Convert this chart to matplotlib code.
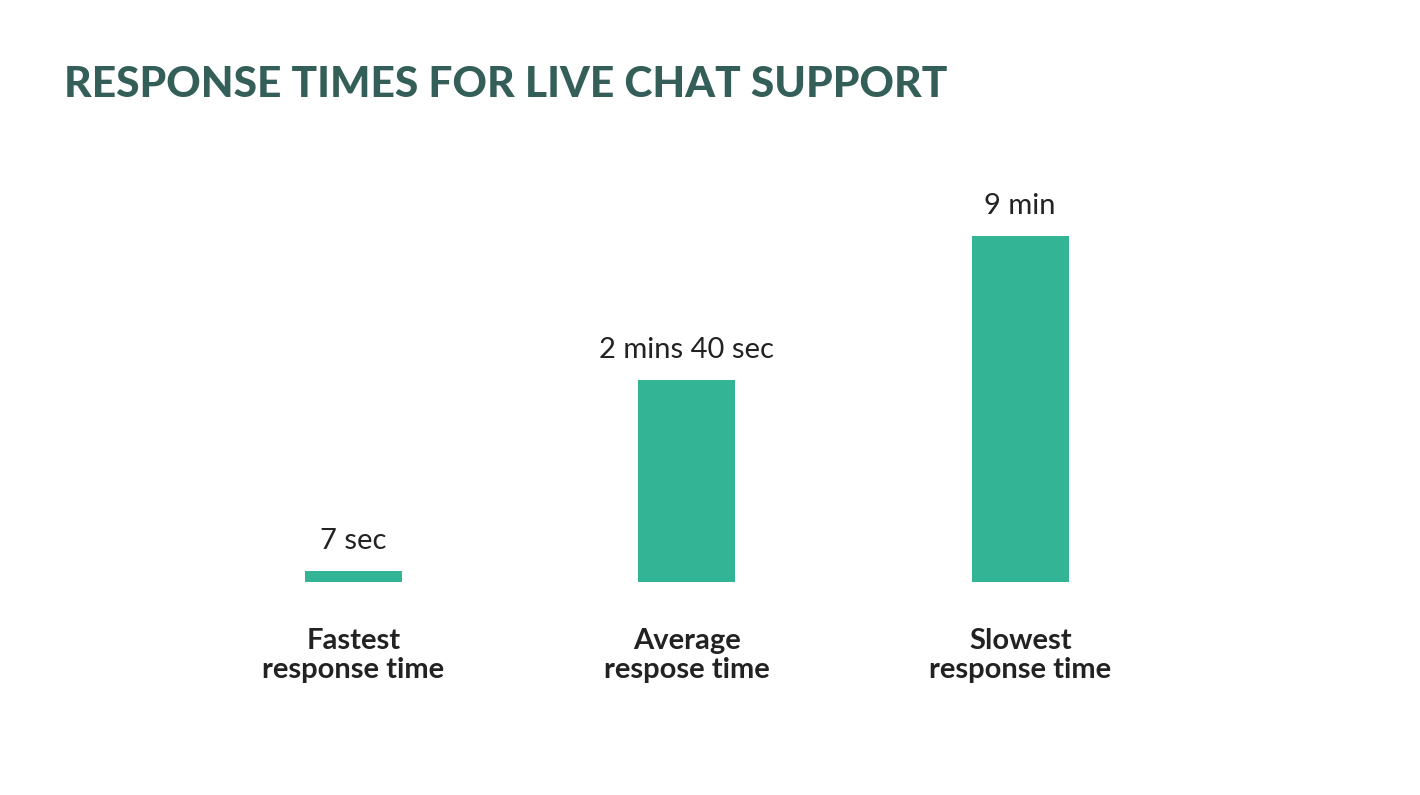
import matplotlib.pyplot as plt

# values (bar heights are relative, slowest = 100)
categories = [("Fastest", "response time"),
              ("Average", "respose time"),
              ("Slowest", "response time")]
bar_heights = [3.2, 58.4, 100.0]
value_labels = ["7 sec", "2 mins 40 sec", "9 min"]

W, H, DPI = 1420, 795, 100
BAR = "#33b595"
TXT = "#222222"
TITLE = "#335f58"

fig = plt.figure(figsize=(W / DPI, H / DPI), dpi=DPI)

def px(x0, y0, x1, y1):
    # pixel box (top-left origin) -> figure fraction rect
    return [x0 / W, 1 - y1 / H, (x1 - x0) / W, (y1 - y0) / H]

ax = fig.add_axes(px(186.5, 236, 1187, 582))
xs = range(len(bar_heights))
ax.bar(xs, bar_heights, width=97 / 333.5, color=BAR)
ax.set_xlim(-0.5, 2.5)
ax.set_ylim(0, 100)
ax.axis("off")

k = 72 / DPI  # px -> pt
for x, h, lab in zip(xs, bar_heights, value_labels):
    ax.annotate(lab, (x, h), xytext=(0, 22 * k), textcoords="offset points",
                ha="center", va="baseline", fontsize=21, family="Lato",
                color=TXT, annotation_clip=False)

for x, (l1, l2) in zip(xs, categories):
    for line, off in ((l1, 67), (l2, 96)):
        ax.annotate(line, (x, 0), xytext=(0, -off * k), textcoords="offset points",
                    ha="center", va="baseline", fontsize=21, family="Lato",
                    fontweight="bold", color=TXT, annotation_clip=False)

fig.text(64 / W, 1 - 97 / H, "RESPONSE TIMES FOR LIVE CHAT SUPPORT",
         ha="left", va="baseline", fontsize=30.6, family="Lato",
         fontweight="black", color=TITLE)

fig.savefig("out.png", dpi=DPI, facecolor="white")
